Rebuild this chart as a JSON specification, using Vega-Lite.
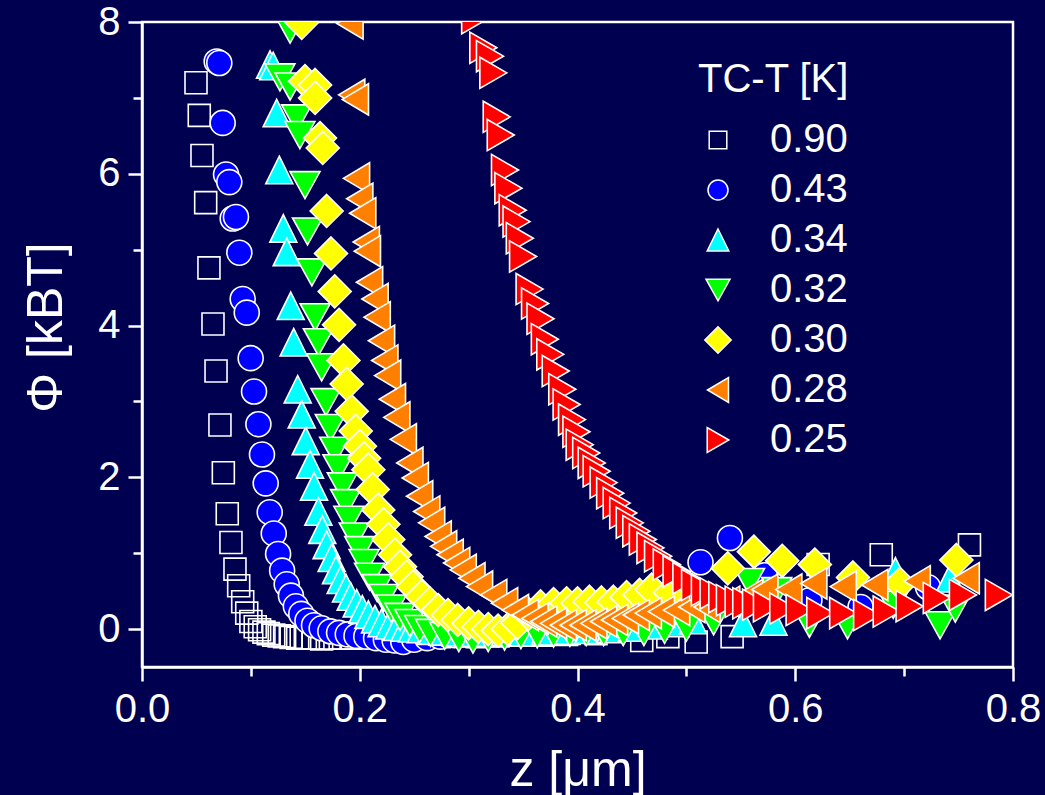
{
"$schema":"https://vega.github.io/schema/vega-lite/v6.json",
"width":871,"height":645,
"autosize":{"type":"none"},
"padding":{"left":142,"top":22,"right":32,"bottom":128},
"background":"#000050",
"config":{
 "view":{"stroke":"white","strokeWidth":2.5,"fill":"#000050"},
 "font":"Liberation Sans",
 "axis":{"domainColor":"white","domainWidth":2.5,"tickColor":"white","tickWidth":2.5,"labelColor":"white","titleColor":"white","labelFont":"Liberation Sans","titleFont":"Liberation Sans","labelFontSize":40,"titleFontSize":50,"titleFontWeight":"normal","grid":false,"labelPadding":6},
 "legend":{"titleFontSize":40,"titleFont":"Liberation Sans","titleFontWeight":"normal","titleColor":"white","labelFontSize":40,"labelColor":"white","labelFont":"Liberation Sans","symbolSize":400,"symbolStrokeColor":"white","symbolStrokeWidth":1.5,"rowPadding":10,"labelOffset":32,"titlePadding":20,"padding":0,"symbolOpacity":1}
},
"data":{"values":[
{"s":"0.90","z":0.0496,"phi":7.20},{"s":"0.90","z":0.0526,"phi":6.77},{"s":"0.90","z":0.0551,"phi":6.24},{"s":"0.90","z":0.0585,"phi":5.62},{"s":"0.90","z":0.0615,"phi":4.76},{"s":"0.90","z":0.0652,"phi":4.02},{"s":"0.90","z":0.0680,"phi":3.40},{"s":"0.90","z":0.0716,"phi":2.69},{"s":"0.90","z":0.0747,"phi":2.06},{"s":"0.90","z":0.0783,"phi":1.52},{"s":"0.90","z":0.0817,"phi":1.14},{"s":"0.90","z":0.0854,"phi":0.79},{"s":"0.90","z":0.0888,"phi":0.57},{"s":"0.90","z":0.0925,"phi":0.36},{"s":"0.90","z":0.0962,"phi":0.21},{"s":"0.90","z":0.100,"phi":0.10},{"s":"0.90","z":0.104,"phi":0.03},{"s":"0.90","z":0.108,"phi":-0.01},{"s":"0.90","z":0.112,"phi":-0.04},{"s":"0.90","z":0.116,"phi":-0.06},{"s":"0.90","z":0.121,"phi":-0.08},{"s":"0.90","z":0.126,"phi":-0.09},{"s":"0.90","z":0.131,"phi":-0.10},{"s":"0.90","z":0.137,"phi":-0.11},{"s":"0.90","z":0.143,"phi":-0.12},{"s":"0.90","z":0.150,"phi":-0.12},{"s":"0.90","z":0.157,"phi":-0.12},{"s":"0.90","z":0.165,"phi":-0.13},{"s":"0.90","z":0.173,"phi":-0.12},{"s":"0.90","z":0.182,"phi":-0.12},{"s":"0.90","z":0.192,"phi":-0.12},{"s":"0.90","z":0.203,"phi":-0.11},{"s":"0.90","z":0.215,"phi":-0.11},{"s":"0.90","z":0.228,"phi":-0.11},{"s":"0.90","z":0.242,"phi":-0.10},{"s":"0.90","z":0.257,"phi":-0.10},{"s":"0.90","z":0.273,"phi":-0.10},{"s":"0.90","z":0.290,"phi":-0.09},{"s":"0.90","z":0.308,"phi":-0.10},{"s":"0.90","z":0.327,"phi":-0.09},{"s":"0.90","z":0.347,"phi":-0.08},{"s":"0.90","z":0.368,"phi":-0.08},{"s":"0.90","z":0.390,"phi":-0.07},{"s":"0.90","z":0.417,"phi":-0.06},{"s":"0.90","z":0.459,"phi":-0.15},{"s":"0.90","z":0.483,"phi":-0.10},{"s":"0.90","z":0.509,"phi":-0.17},{"s":"0.90","z":0.542,"phi":-0.10},{"s":"0.90","z":0.621,"phi":0.85},{"s":"0.90","z":0.679,"phi":0.98},{"s":"0.90","z":0.760,"phi":1.11},
{"s":"0.43","z":0.0686,"phi":7.48},{"s":"0.43","z":0.0710,"phi":7.46},{"s":"0.43","z":0.0741,"phi":6.67},{"s":"0.43","z":0.0772,"phi":5.99},{"s":"0.43","z":0.0802,"phi":5.89},{"s":"0.43","z":0.0833,"phi":5.41},{"s":"0.43","z":0.0863,"phi":5.43},{"s":"0.43","z":0.0894,"phi":4.96},{"s":"0.43","z":0.0925,"phi":4.35},{"s":"0.43","z":0.0962,"phi":4.17},{"s":"0.43","z":0.0998,"phi":3.57},{"s":"0.43","z":0.1029,"phi":3.13},{"s":"0.43","z":0.1069,"phi":2.70},{"s":"0.43","z":0.1102,"phi":2.30},{"s":"0.43","z":0.1136,"phi":1.92},{"s":"0.43","z":0.1173,"phi":1.54},{"s":"0.43","z":0.1210,"phi":1.26},{"s":"0.43","z":0.1250,"phi":0.99},{"s":"0.43","z":0.1287,"phi":0.77},{"s":"0.43","z":0.1329,"phi":0.59},{"s":"0.43","z":0.1368,"phi":0.44},{"s":"0.43","z":0.1413,"phi":0.30},{"s":"0.43","z":0.1463,"phi":0.20},{"s":"0.43","z":0.1520,"phi":0.11},{"s":"0.43","z":0.1580,"phi":0.05},{"s":"0.43","z":0.1650,"phi":0.01},{"s":"0.43","z":0.1730,"phi":-0.03},{"s":"0.43","z":0.1810,"phi":-0.05},{"s":"0.43","z":0.1890,"phi":-0.07},{"s":"0.43","z":0.1970,"phi":-0.09},{"s":"0.43","z":0.2060,"phi":-0.10},{"s":"0.43","z":0.2150,"phi":-0.12},{"s":"0.43","z":0.2240,"phi":-0.14},{"s":"0.43","z":0.2320,"phi":-0.15},{"s":"0.43","z":0.2400,"phi":-0.17},{"s":"0.43","z":0.2500,"phi":-0.14},{"s":"0.43","z":0.2620,"phi":-0.12},{"s":"0.43","z":0.2740,"phi":-0.10},{"s":"0.43","z":0.2870,"phi":-0.08},{"s":"0.43","z":0.3000,"phi":-0.06},{"s":"0.43","z":0.3140,"phi":-0.05},{"s":"0.43","z":0.3290,"phi":-0.04},{"s":"0.43","z":0.3450,"phi":-0.03},{"s":"0.43","z":0.3620,"phi":-0.02},{"s":"0.43","z":0.3800,"phi":-0.01},{"s":"0.43","z":0.3990,"phi":0.00},{"s":"0.43","z":0.4190,"phi":0.02},{"s":"0.43","z":0.4400,"phi":0.04},{"s":"0.43","z":0.4620,"phi":0.08},{"s":"0.43","z":0.4850,"phi":0.15},{"s":"0.43","z":0.5130,"phi":0.88},{"s":"0.43","z":0.5400,"phi":1.20},{"s":"0.43","z":0.5720,"phi":0.71},{"s":"0.43","z":0.6130,"phi":0.38},{"s":"0.43","z":0.6600,"phi":0.29},{"s":"0.43","z":0.7220,"phi":0.55},
{"s":"0.34","z":0.1176,"phi":7.44},{"s":"0.34","z":0.1205,"phi":7.42},{"s":"0.34","z":0.1237,"phi":6.80},{"s":"0.34","z":0.1261,"phi":6.05},{"s":"0.34","z":0.1298,"phi":5.28},{"s":"0.34","z":0.1329,"phi":4.97},{"s":"0.34","z":0.1366,"phi":4.26},{"s":"0.34","z":0.1393,"phi":3.78},{"s":"0.34","z":0.1430,"phi":3.16},{"s":"0.34","z":0.1467,"phi":2.83},{"s":"0.34","z":0.1504,"phi":2.48},{"s":"0.34","z":0.1543,"phi":2.17},{"s":"0.34","z":0.1580,"phi":1.88},{"s":"0.34","z":0.1620,"phi":1.55},{"s":"0.34","z":0.1656,"phi":1.31},{"s":"0.34","z":0.1696,"phi":1.11},{"s":"0.34","z":0.1742,"phi":0.94},{"s":"0.34","z":0.1782,"phi":0.78},{"s":"0.34","z":0.1825,"phi":0.65},{"s":"0.34","z":0.1874,"phi":0.54},{"s":"0.34","z":0.1917,"phi":0.43},{"s":"0.34","z":0.1972,"phi":0.34},{"s":"0.34","z":0.2024,"phi":0.26},{"s":"0.34","z":0.2079,"phi":0.19},{"s":"0.34","z":0.2140,"phi":0.13},{"s":"0.34","z":0.2200,"phi":0.08},{"s":"0.34","z":0.2270,"phi":0.05},{"s":"0.34","z":0.2340,"phi":0.03},{"s":"0.34","z":0.2410,"phi":0.02},{"s":"0.34","z":0.2480,"phi":0.01},{"s":"0.34","z":0.2560,"phi":0.00},{"s":"0.34","z":0.2650,"phi":-0.02},{"s":"0.34","z":0.2760,"phi":-0.03},{"s":"0.34","z":0.2880,"phi":-0.04},{"s":"0.34","z":0.3000,"phi":-0.05},{"s":"0.34","z":0.3150,"phi":-0.05},{"s":"0.34","z":0.3300,"phi":-0.04},{"s":"0.34","z":0.3500,"phi":-0.04},{"s":"0.34","z":0.3700,"phi":-0.03},{"s":"0.34","z":0.3900,"phi":-0.02},{"s":"0.34","z":0.4100,"phi":-0.01},{"s":"0.34","z":0.4300,"phi":0.00},{"s":"0.34","z":0.4500,"phi":0.02},{"s":"0.34","z":0.4700,"phi":0.05},{"s":"0.34","z":0.4900,"phi":0.08},{"s":"0.34","z":0.5060,"phi":0.12},{"s":"0.34","z":0.5520,"phi":0.08},{"s":"0.34","z":0.5800,"phi":0.10},{"s":"0.34","z":0.6920,"phi":0.76},{"s":"0.34","z":0.7420,"phi":0.67},
{"s":"0.32","z":0.1360,"phi":7.90},{"s":"0.32","z":0.1267,"phi":7.27},{"s":"0.32","z":0.1360,"phi":7.15},{"s":"0.32","z":0.1420,"phi":6.73},{"s":"0.32","z":0.1450,"phi":6.51},{"s":"0.32","z":0.1497,"phi":5.85},{"s":"0.32","z":0.1520,"phi":5.24},{"s":"0.32","z":0.1560,"phi":4.70},{"s":"0.32","z":0.1590,"phi":4.11},{"s":"0.32","z":0.1620,"phi":3.78},{"s":"0.32","z":0.1650,"phi":3.45},{"s":"0.32","z":0.1690,"phi":2.99},{"s":"0.32","z":0.1730,"phi":2.65},{"s":"0.32","z":0.1770,"phi":2.35},{"s":"0.32","z":0.1800,"phi":2.12},{"s":"0.32","z":0.1840,"phi":1.88},{"s":"0.32","z":0.1870,"phi":1.66},{"s":"0.32","z":0.1900,"phi":1.44},{"s":"0.32","z":0.1950,"phi":1.22},{"s":"0.32","z":0.2000,"phi":1.04},{"s":"0.32","z":0.2040,"phi":0.87},{"s":"0.32","z":0.2090,"phi":0.69},{"s":"0.32","z":0.2160,"phi":0.54},{"s":"0.32","z":0.2220,"phi":0.41},{"s":"0.32","z":0.2290,"phi":0.27},{"s":"0.32","z":0.2370,"phi":0.16},{"s":"0.32","z":0.2460,"phi":0.08},{"s":"0.32","z":0.2550,"phi":0.00},{"s":"0.32","z":0.2650,"phi":-0.05},{"s":"0.32","z":0.2780,"phi":-0.09},{"s":"0.32","z":0.2910,"phi":-0.12},{"s":"0.32","z":0.3040,"phi":-0.14},{"s":"0.32","z":0.3180,"phi":-0.12},{"s":"0.32","z":0.3330,"phi":-0.10},{"s":"0.32","z":0.3480,"phi":-0.08},{"s":"0.32","z":0.3630,"phi":-0.07},{"s":"0.32","z":0.3780,"phi":-0.06},{"s":"0.32","z":0.3930,"phi":-0.05},{"s":"0.32","z":0.4080,"phi":-0.04},{"s":"0.32","z":0.4240,"phi":-0.04},{"s":"0.32","z":0.4420,"phi":-0.04},{"s":"0.32","z":0.4610,"phi":-0.04},{"s":"0.32","z":0.4800,"phi":-0.01},{"s":"0.32","z":0.5000,"phi":0.02},{"s":"0.32","z":0.5250,"phi":0.10},{"s":"0.32","z":0.5580,"phi":0.62},{"s":"0.32","z":0.5830,"phi":0.50},{"s":"0.32","z":0.6130,"phi":0.07},{"s":"0.32","z":0.6480,"phi":0.05},{"s":"0.32","z":0.6900,"phi":0.32},{"s":"0.32","z":0.7330,"phi":0.05},{"s":"0.32","z":0.7470,"phi":0.27},
{"s":"0.30","z":0.1467,"phi":7.99},{"s":"0.30","z":0.1497,"phi":7.22},{"s":"0.30","z":0.1590,"phi":7.17},{"s":"0.30","z":0.1590,"phi":7.00},{"s":"0.30","z":0.1635,"phi":6.47},{"s":"0.30","z":0.1660,"phi":6.34},{"s":"0.30","z":0.1696,"phi":5.51},{"s":"0.30","z":0.1736,"phi":4.95},{"s":"0.30","z":0.1770,"phi":4.45},{"s":"0.30","z":0.1810,"phi":4.01},{"s":"0.30","z":0.1850,"phi":3.54},{"s":"0.30","z":0.1880,"phi":3.23},{"s":"0.30","z":0.1926,"phi":2.87},{"s":"0.30","z":0.1963,"phi":2.61},{"s":"0.30","z":0.2002,"phi":2.41},{"s":"0.30","z":0.2040,"phi":2.25},{"s":"0.30","z":0.2079,"phi":2.10},{"s":"0.30","z":0.2119,"phi":1.84},{"s":"0.30","z":0.2170,"phi":1.57},{"s":"0.30","z":0.2217,"phi":1.38},{"s":"0.30","z":0.2262,"phi":1.18},{"s":"0.30","z":0.2324,"phi":0.98},{"s":"0.30","z":0.2370,"phi":0.82},{"s":"0.30","z":0.2430,"phi":0.69},{"s":"0.30","z":0.2490,"phi":0.56},{"s":"0.30","z":0.2570,"phi":0.43},{"s":"0.30","z":0.2645,"phi":0.34},{"s":"0.30","z":0.2720,"phi":0.25},{"s":"0.30","z":0.2810,"phi":0.185},{"s":"0.30","z":0.2900,"phi":0.12},{"s":"0.30","z":0.3000,"phi":0.075},{"s":"0.30","z":0.3090,"phi":0.03},{"s":"0.30","z":0.3180,"phi":0.00},{"s":"0.30","z":0.3270,"phi":-0.02},{"s":"0.30","z":0.3360,"phi":0.00},{"s":"0.30","z":0.3450,"phi":0.08},{"s":"0.30","z":0.3550,"phi":0.20},{"s":"0.30","z":0.3660,"phi":0.30},{"s":"0.30","z":0.3780,"phi":0.33},{"s":"0.30","z":0.3900,"phi":0.34},{"s":"0.30","z":0.4000,"phi":0.34},{"s":"0.30","z":0.4110,"phi":0.36},{"s":"0.30","z":0.4220,"phi":0.35},{"s":"0.30","z":0.4330,"phi":0.36},{"s":"0.30","z":0.4450,"phi":0.42},{"s":"0.30","z":0.4570,"phi":0.45},{"s":"0.30","z":0.4680,"phi":0.52},{"s":"0.30","z":0.4850,"phi":0.48},{"s":"0.30","z":0.5380,"phi":0.80},{"s":"0.30","z":0.5620,"phi":1.02},{"s":"0.30","z":0.5880,"phi":0.90},{"s":"0.30","z":0.6180,"phi":0.85},{"s":"0.30","z":0.6530,"phi":0.68},{"s":"0.30","z":0.6960,"phi":0.60},{"s":"0.30","z":0.7480,"phi":0.91},
{"s":"0.28","z":0.1910,"phi":7.98},{"s":"0.28","z":0.1926,"phi":7.04},{"s":"0.28","z":0.1960,"phi":6.98},{"s":"0.28","z":0.1970,"phi":5.94},{"s":"0.28","z":0.2000,"phi":5.67},{"s":"0.28","z":0.2027,"phi":5.48},{"s":"0.28","z":0.2060,"phi":5.10},{"s":"0.28","z":0.2070,"phi":4.98},{"s":"0.28","z":0.2090,"phi":4.57},{"s":"0.28","z":0.2140,"phi":4.35},{"s":"0.28","z":0.2160,"phi":4.11},{"s":"0.28","z":0.2200,"phi":3.80},{"s":"0.28","z":0.2230,"phi":3.54},{"s":"0.28","z":0.2256,"phi":3.34},{"s":"0.28","z":0.2300,"phi":3.03},{"s":"0.28","z":0.2340,"phi":2.79},{"s":"0.28","z":0.2400,"phi":2.50},{"s":"0.28","z":0.2460,"phi":2.19},{"s":"0.28","z":0.2510,"phi":1.99},{"s":"0.28","z":0.2550,"phi":1.75},{"s":"0.28","z":0.2615,"phi":1.55},{"s":"0.28","z":0.2660,"phi":1.40},{"s":"0.28","z":0.2720,"phi":1.22},{"s":"0.28","z":0.2770,"phi":1.09},{"s":"0.28","z":0.2830,"phi":0.98},{"s":"0.28","z":0.2890,"phi":0.87},{"s":"0.28","z":0.2950,"phi":0.78},{"s":"0.28","z":0.3030,"phi":0.67},{"s":"0.28","z":0.3100,"phi":0.56},{"s":"0.28","z":0.3230,"phi":0.45},{"s":"0.28","z":0.3330,"phi":0.34},{"s":"0.28","z":0.3430,"phi":0.25},{"s":"0.28","z":0.3520,"phi":0.185},{"s":"0.28","z":0.3610,"phi":0.14},{"s":"0.28","z":0.3690,"phi":0.10},{"s":"0.28","z":0.3780,"phi":0.075},{"s":"0.28","z":0.3870,"phi":0.05},{"s":"0.28","z":0.3960,"phi":0.05},{"s":"0.28","z":0.4050,"phi":0.05},{"s":"0.28","z":0.4150,"phi":0.075},{"s":"0.28","z":0.4240,"phi":0.10},{"s":"0.28","z":0.4340,"phi":0.12},{"s":"0.28","z":0.4440,"phi":0.14},{"s":"0.28","z":0.4540,"phi":0.185},{"s":"0.28","z":0.4650,"phi":0.21},{"s":"0.28","z":0.4770,"phi":0.23},{"s":"0.28","z":0.4910,"phi":0.25},{"s":"0.28","z":0.5050,"phi":0.29},{"s":"0.28","z":0.5190,"phi":0.29},{"s":"0.28","z":0.5370,"phi":0.36},{"s":"0.28","z":0.5580,"phi":0.45},{"s":"0.28","z":0.5720,"phi":0.52},{"s":"0.28","z":0.5940,"phi":0.52},{"s":"0.28","z":0.6170,"phi":0.60},{"s":"0.28","z":0.6440,"phi":0.56},{"s":"0.28","z":0.6730,"phi":0.58},{"s":"0.28","z":0.7120,"phi":0.63},{"s":"0.28","z":0.7570,"phi":0.67},
{"s":"0.25","z":0.3060,"phi":8.05},{"s":"0.25","z":0.3135,"phi":7.66},{"s":"0.25","z":0.3196,"phi":7.55},{"s":"0.25","z":0.3227,"phi":7.33},{"s":"0.25","z":0.3258,"phi":6.75},{"s":"0.25","z":0.3295,"phi":6.51},{"s":"0.25","z":0.3334,"phi":6.05},{"s":"0.25","z":0.3365,"phi":5.81},{"s":"0.25","z":0.3405,"phi":5.52},{"s":"0.25","z":0.3440,"phi":5.37},{"s":"0.25","z":0.3470,"phi":5.15},{"s":"0.25","z":0.3500,"phi":4.91},{"s":"0.25","z":0.3560,"phi":4.48},{"s":"0.25","z":0.3610,"phi":4.29},{"s":"0.25","z":0.3660,"phi":4.09},{"s":"0.25","z":0.3700,"phi":3.82},{"s":"0.25","z":0.3750,"phi":3.62},{"s":"0.25","z":0.3800,"phi":3.40},{"s":"0.25","z":0.3860,"phi":3.16},{"s":"0.25","z":0.3900,"phi":2.96},{"s":"0.25","z":0.3950,"phi":2.76},{"s":"0.25","z":0.3990,"phi":2.60},{"s":"0.25","z":0.4020,"phi":2.43},{"s":"0.25","z":0.4080,"phi":2.32},{"s":"0.25","z":0.4130,"phi":2.19},{"s":"0.25","z":0.4176,"phi":2.08},{"s":"0.25","z":0.4240,"phi":1.93},{"s":"0.25","z":0.4300,"phi":1.79},{"s":"0.25","z":0.4360,"phi":1.66},{"s":"0.25","z":0.4420,"phi":1.53},{"s":"0.25","z":0.4480,"phi":1.40},{"s":"0.25","z":0.4540,"phi":1.29},{"s":"0.25","z":0.4600,"phi":1.18},{"s":"0.25","z":0.4670,"phi":1.07},{"s":"0.25","z":0.4740,"phi":0.96},{"s":"0.25","z":0.4820,"phi":0.85},{"s":"0.25","z":0.4910,"phi":0.76},{"s":"0.25","z":0.5000,"phi":0.67},{"s":"0.25","z":0.5080,"phi":0.58},{"s":"0.25","z":0.5170,"phi":0.51},{"s":"0.25","z":0.5250,"phi":0.47},{"s":"0.25","z":0.5330,"phi":0.42},{"s":"0.25","z":0.5400,"phi":0.38},{"s":"0.25","z":0.5480,"phi":0.36},{"s":"0.25","z":0.5550,"phi":0.34},{"s":"0.25","z":0.5640,"phi":0.32},{"s":"0.25","z":0.5740,"phi":0.30},{"s":"0.25","z":0.5890,"phi":0.27},{"s":"0.25","z":0.6040,"phi":0.25},{"s":"0.25","z":0.6230,"phi":0.21},{"s":"0.25","z":0.6440,"phi":0.21},{"s":"0.25","z":0.6660,"phi":0.185},{"s":"0.25","z":0.6840,"phi":0.23},{"s":"0.25","z":0.7050,"phi":0.30},{"s":"0.25","z":0.7300,"phi":0.41},{"s":"0.25","z":0.7540,"phi":0.45},{"s":"0.25","z":0.7870,"phi":0.45}
]},
"mark":{"type":"point","filled":true,"stroke":"white","strokeWidth":1.6,"size":625,"opacity":1,"clip":true},
"encoding":{
 "x":{"field":"z","type":"quantitative","scale":{"domain":[0,0.8],"nice":false,"zero":false},
  "axis":{"title":"z [μm]","values":[0,0.1,0.2,0.3,0.4,0.5,0.6,0.7,0.8],"labelExpr":"round(datum.value*10)%2===0 ? format(datum.value,'.1f') : ''","tickSize":{"condition":{"test":"round(datum.value*10)%2===0","value":14},"value":9},"labelPadding":8,"titlePadding":16,"labelFlush":false}},
 "y":{"field":"phi","type":"quantitative","scale":{"domain":[-0.5,8],"nice":false,"zero":false},
  "axis":{"title":"Φ [kBT]","values":[0,1,2,3,4,5,6,7,8],"labelExpr":"datum.value%2===0 ? datum.label : ''","tickSize":{"condition":{"test":"datum.value%2===0","value":14},"value":9},"labelPadding":8,"titlePadding":26,"titleY":305,"labelFlush":false}},
 "fill":{"field":"s","type":"nominal","title":"TC-T [K]",
  "scale":{"domain":["0.90","0.43","0.34","0.32","0.30","0.28","0.25"],"range":["transparent","#0000ff","#00ffff","#00ff00","#ffff00","#ff8000","#ff0000"]},
  "legend":{"orient":"none","legendX":556,"legendY":38,"symbolStrokeColor":"white","symbolStrokeWidth":1.5,
   "encode":{"symbols":{"update":{"stroke":{"value":"white"},"strokeWidth":{"value":1.5}}}}}},
 "shape":{"field":"s","type":"nominal","title":"TC-T [K]",
  "scale":{"domain":["0.90","0.43","0.34","0.32","0.30","0.28","0.25"],"range":["M-0.88,-0.88L0.88,-0.88L0.88,0.88L-0.88,0.88Z","circle","M0,-1.1L1.08,1.1L-1.08,1.1Z","M0,1.08L1.2,-1.08L-1.2,-1.08Z","M0,-1.32L1.32,0L0,1.32L-1.32,0Z","M-1.05,0L1.05,-1.25L1.05,1.25Z","M1.08,0L-1.08,-1.25L-1.08,1.25Z"]}}
}
}
